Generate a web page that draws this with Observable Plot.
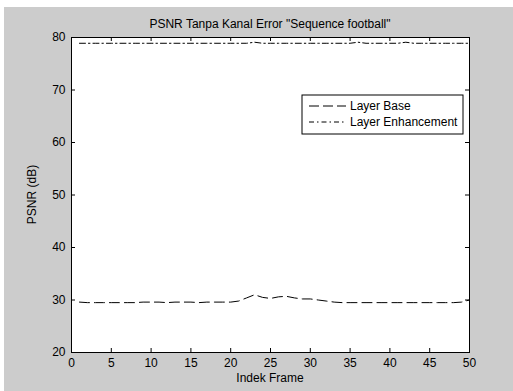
<!DOCTYPE html>
<html>
<head>
<meta charset="utf-8">
<script src="https://cdn.jsdelivr.net/npm/d3@7"></script>
<script src="https://cdn.jsdelivr.net/npm/@observablehq/plot@0.6"></script>
<style>
  html, body { margin: 0; padding: 0; background: #ffffff; }
  #chart svg { display: block; font-family: "Liberation Sans", Arial, sans-serif; }
</style>
</head>
<body>
<div id="chart"></div>
<script>
const frames = d3.range(1, 51);
const layerBase = [
  29.6, 29.5, 29.5, 29.5, 29.5, 29.5, 29.5, 29.5, 29.6, 29.6,
  29.6, 29.5, 29.6, 29.6, 29.6, 29.5, 29.6, 29.6, 29.6, 29.6,
  29.8, 30.4, 31.0, 30.5, 30.3, 30.6, 30.7, 30.4, 30.2, 30.2,
  30.0, 29.8, 29.6, 29.5, 29.5, 29.5, 29.5, 29.5, 29.5, 29.5,
  29.5, 29.5, 29.5, 29.5, 29.5, 29.5, 29.5, 29.5, 29.6, 30.0
];
const layerEnh = [
  78.9, 78.9, 78.9, 78.9, 78.9, 78.9, 78.9, 78.9, 78.9, 78.9,
  78.9, 78.9, 78.9, 78.9, 78.9, 78.9, 78.9, 78.9, 78.9, 78.9,
  78.9, 78.9, 79.1, 78.9, 78.9, 78.9, 78.9, 78.9, 78.9, 78.9,
  78.9, 78.9, 78.9, 78.9, 78.9, 79.1, 78.9, 78.9, 78.9, 78.9,
  78.9, 79.1, 78.9, 78.9, 78.9, 78.9, 78.9, 78.9, 78.9, 78.9
];
const xTicks = [0, 5, 10, 15, 20, 25, 30, 35, 40, 45, 50];
const yTicks = [20, 30, 40, 50, 60, 70, 80];
const seriesNames = ["Layer Base", "Layer Enhancement"];
const titleText = 'PSNR Tanpa Kanal Error "Sequence football"';
const xLabel = "Indek Frame";
const yLabel = "PSNR (dB)";

const baseData = frames.map((f, i) => ({frame: f, psnr: layerBase[i]}));
const enhData = frames.map((f, i) => ({frame: f, psnr: layerEnh[i]}));

const W = 513, H = 391;
const mL = 71, mR = 44, mT = 37, mB = 39;
const tickLenX = 4 / ((H - mT - mB) / 60);
const tickLenY = 4 / ((W - mL - mR) / 50);

const plot = Plot.plot({
  width: W,
  height: H,
  marginLeft: mL,
  marginRight: mR,
  marginTop: mT,
  marginBottom: mB,
  style: {background: "transparent", fontFamily: "Liberation Sans, Arial, sans-serif", fontSize: "12px", color: "#000"},
  x: {domain: [0, 50]},
  y: {domain: [20, 80]},
  marks: [
    Plot.frame({fill: "white", stroke: "none"}),
    Plot.axisX(xTicks, {tickSize: 0, tickPadding: 6, fontSize: 12, label: null, fill: "#000"}),
    Plot.axisY(yTicks, {tickSize: 0, tickPadding: 6, fontSize: 12, label: null, fill: "#000"}),
    Plot.ruleX(xTicks, {x: d => d, y1: 20, y2: 20 + tickLenX, stroke: "#000"}),
    Plot.ruleX(xTicks, {x: d => d, y1: 80, y2: 80 - tickLenX, stroke: "#000"}),
    Plot.ruleY(yTicks, {y: d => d, x1: 0, x2: tickLenY, stroke: "#000"}),
    Plot.ruleY(yTicks, {y: d => d, x1: 50, x2: 50 - tickLenY, stroke: "#000"}),
    Plot.line(baseData, {x: "frame", y: "psnr", stroke: "#000", strokeWidth: 1, strokeDasharray: "10,5"}),
    Plot.line(enhData, {x: "frame", y: "psnr", stroke: "#000", strokeWidth: 1, strokeDasharray: "6,3,1.5,3"}),
    Plot.frame({stroke: "#000", fill: "none"})
  ]
});

const svg = d3.select(plot);
svg.insert("rect", ":first-child")
  .attr("x", 4).attr("y", 7).attr("width", W - 4).attr("height", H - 7)
  .attr("fill", "#cccccc");

// title
svg.append("text")
  .attr("x", 270).attr("y", 28)
  .attr("text-anchor", "middle")
  .attr("font-size", 12)
  .attr("fill", "#000")
  .text(titleText);
// x label
svg.append("text")
  .attr("x", 270).attr("y", 382)
  .attr("text-anchor", "middle")
  .attr("font-size", 12)
  .attr("fill", "#000")
  .text(xLabel);
// y label
svg.append("text")
  .attr("transform", "translate(36,194.5) rotate(-90)")
  .attr("text-anchor", "middle")
  .attr("font-size", 12)
  .attr("fill", "#000")
  .text(yLabel);

// legend
const lg = svg.append("g").attr("transform", "translate(302,95)");
lg.append("rect").attr("width", 161).attr("height", 39)
  .attr("fill", "white").attr("stroke", "#000").attr("stroke-width", 1);
const dashes = ["10,4", "5,3,1.5,3"];
seriesNames.forEach((name, i) => {
  const yy = 11 + i * 16;
  lg.append("line").attr("x1", 7).attr("x2", 44).attr("y1", yy).attr("y2", yy)
    .attr("stroke", "#000").attr("stroke-width", 1).attr("stroke-dasharray", dashes[i]);
  lg.append("text").attr("x", 48).attr("y", yy + 4)
    .attr("text-anchor", "start")
    .attr("font-size", 12).attr("fill", "#000").text(name);
});

document.getElementById("chart").appendChild(plot);
</script>
</body>
</html>
